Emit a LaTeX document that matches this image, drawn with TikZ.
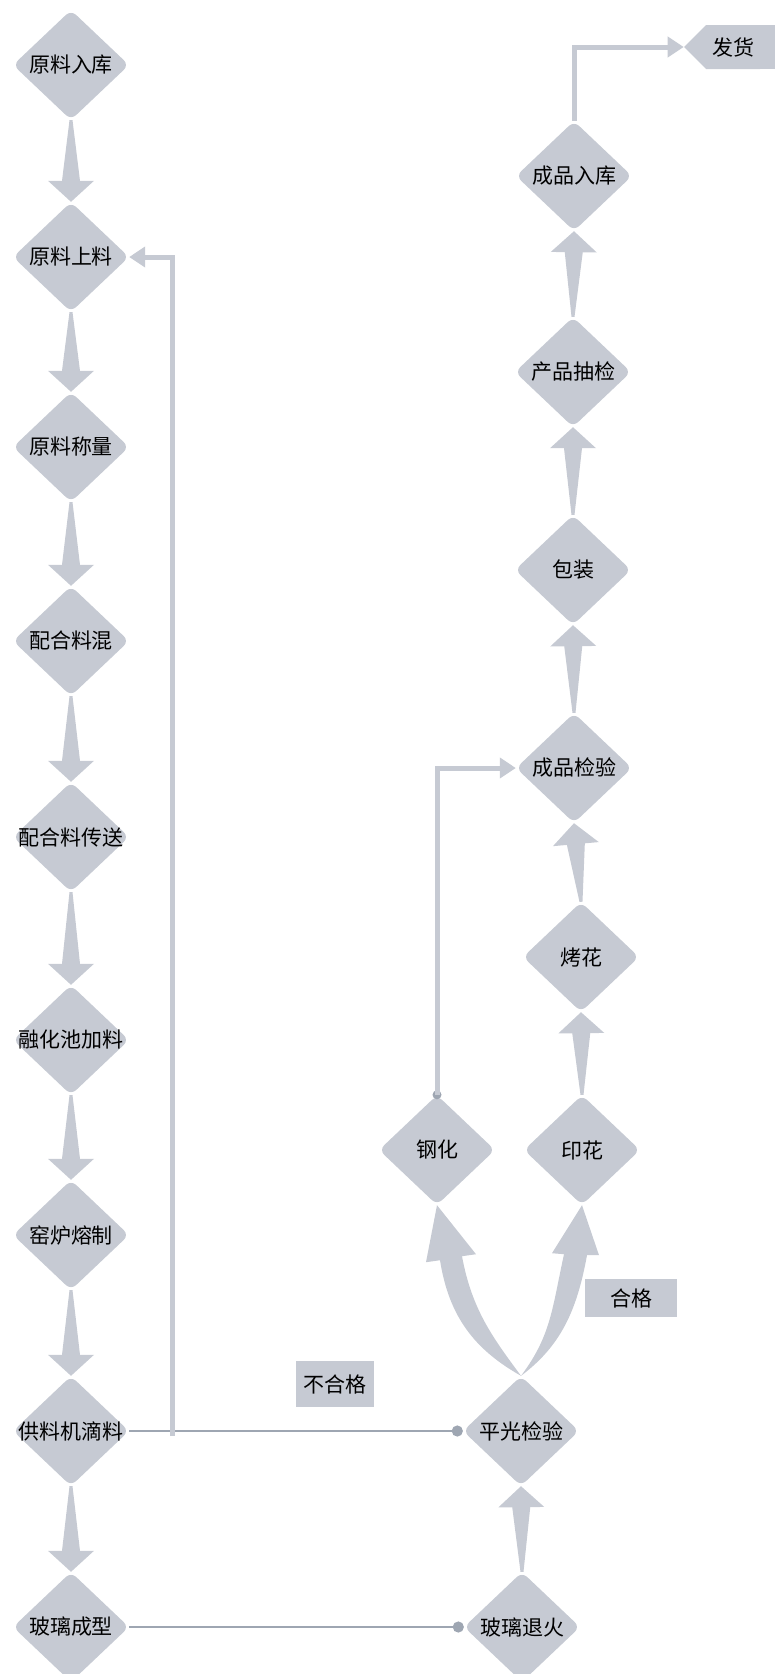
\documentclass[tikz,border=0pt]{standalone}
\usepackage{fontspec}
\newfontfamily\cjk{Noto Sans CJK SC}
\usetikzlibrary{shapes.geometric, shapes.symbols, calc, arrows.meta}

\definecolor{boxgray}{HTML}{C6CAD3}
\definecolor{linegray}{HTML}{9EA6B2}

% tapered block arrow from #1 to #2
\newcommand{\blockarrow}[2]{%
  \coordinate (hb) at ($(#2)!21pt!(#1)$);
  \fill[boxgray] ($(#1)!1.5pt!90:(#2)$) -- ($(hb)!9pt!90:(#2)$) -- ($(hb)!23pt!90:(#2)$) -- (#2)
    -- ($(hb)!23pt!-90:(#2)$) -- ($(hb)!9pt!-90:(#2)$) -- ($(#1)!1.5pt!-90:(#2)$) -- cycle;}

\begin{document}
\begin{tikzpicture}[x=1pt, y=-1pt,
    every node/.style={font=\cjk\fontsize{21}{24}\selectfont, text=black},
    proc/.style={diamond, fill=boxgray, rounded corners=7pt, inner sep=-8pt,
                 minimum width=116pt, minimum height=110pt},
    tag/.style={rectangle, fill=boxgray, inner sep=0pt},
    lline/.style={draw=boxgray, line width=5pt, -{Triangle[width=20pt,length=16pt]}},
    dline/.style={draw=linegray, line width=2.5pt, -{Circle[length=11pt]}}]
  \useasboundingbox (0,0) rectangle (775,1674);

  % left column
  \node[proc] (rk) at (71,65) {原料入库};
  \node[proc] (rs) at (71,257) {原料上料};
  \node[proc] (rc) at (71,447) {原料称量};
  \node[proc] (hh) at (71,641) {配合料混};
  \node[proc] (cs) at (71,837) {配合料传送};
  \node[proc] (jl) at (71,1040) {融化池加料};
  \node[proc] (yl) at (71,1235) {窑炉熔制};
  \node[proc] (gl) at (71,1431) {供料机滴料};
  \node[proc] (cx) at (71,1627) {玻璃成型};

  % right column
  \node[proc] (pg) at (521,1431) {平光检验};
  \node[proc] (th) at (522,1627) {玻璃退火};
  \node[proc] (gh) at (437,1150) {钢化};
  \node[proc] (yh) at (582,1150) {印花};
  \node[proc] (kh) at (581,957) {烤花};
  \node[proc] (cj) at (574,768) {成品检验};
  \node[proc] (bz) at (573,570) {包装};
  \node[proc] (cc) at (573,372) {产品抽检};
  \node[proc] (cr) at (574,176) {成品入库};
  \fill[boxgray] (760,25) rectangle (780,69);
  \node[signal, signal to=west, signal pointer angle=90, fill=boxgray, inner sep=0pt,
        minimum width=76pt, minimum height=44pt] (fh) at (733,47) {发货};

  \node[tag, minimum width=78pt, minimum height=46pt] (bhg) at (335,1384) {不合格};
  \node[tag, minimum width=92pt, minimum height=38pt] (hg) at (631,1298) {合格};

  \foreach \a/\b in {rk/rs, rs/rc, rc/hh, hh/cs, cs/jl, jl/yl, yl/gl, gl/cx}
    \blockarrow{\a.south}{\b.north};
  \foreach \a/\b in {th/pg, yh/kh, kh/cj, cj/bz, bz/cc, cc/cr}
    \blockarrow{\a.north}{\b.south};

  % curved arrows out of pg
  \fill[boxgray] (gh.south) -- ($(gh.south)+(39,49)$) -- ($(gh.south)+(25,51)$)
    .. controls ($(gh.south)+(35,105)$) and ($(pg.north)+(-28,-38)$) .. (pg.north)
    .. controls ($(pg.north)+(-46,-26)$) and ($(gh.south)+(12,112)$) .. ($(gh.south)+(3,55)$)
    -- ($(gh.south)+(-11,57)$) -- cycle;
  \fill[boxgray] (yh.south) -- ($(yh.south)+(17,50)$) -- ($(yh.south)+(5,50)$)
    .. controls ($(yh.south)+(-5,105)$) and ($(pg.north)+(40,-30)$) .. (pg.north)
    .. controls ($(pg.north)+(30,-40)$) and ($(yh.south)+(-30,104)$) .. ($(yh.south)+(-18,49)$)
    -- ($(yh.south)+(-30,48)$) -- cycle;

  \draw[dline] (gl.east) -- (pg.west);
  \draw[dline] (cx.east) -- (th.west);

  \coordinate (back) at (172,1436);
  \draw[lline] (back) |- (rs.east);
  \fill[linegray] (gh.north) circle (4.5pt);
  \draw[lline] (gh.north) |- (cj.west);
  \draw[lline] (cr.north) |- (fh.west);
\end{tikzpicture}
\end{document}
